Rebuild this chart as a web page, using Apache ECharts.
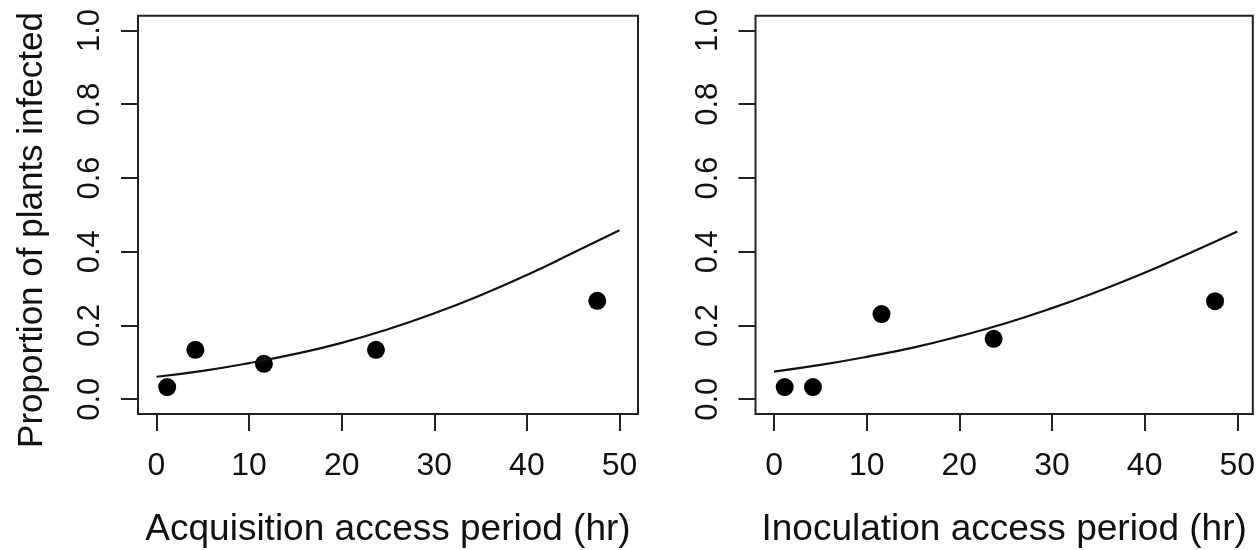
<!DOCTYPE html>
<html>
<head>
<meta charset="utf-8">
<script src="https://cdn.jsdelivr.net/npm/echarts@6/dist/echarts.min.js"></script>
<style>
  html, body { margin: 0; padding: 0; background: #fff; }
  #chart { width: 1256px; height: 550px; }
</style>
</head>
<body>
<div id="chart"></div>
<script>
// ---- data ----
const xTickValues = [0, 10, 20, 30, 40, 50];
const yTickValues = [0, 0.2, 0.4, 0.6, 0.8, 1.0];

const accessPeriods = [1.15, 4.2, 11.6, 23.7, 47.6];          // hr
const acquisitionProp = [0.033, 0.134, 0.096, 0.134, 0.267];   // left panel points
const inoculationProp = [0.033, 0.033, 0.231, 0.164, 0.266];   // right panel points

const fitX = [0, 5, 10, 15, 20, 25, 30, 35, 40, 45, 50];
const acquisitionFit = [0.061, 0.077, 0.098, 0.123, 0.153, 0.190, 0.233, 0.282, 0.337, 0.397, 0.458];
const inoculationFit = [0.075, 0.093, 0.115, 0.140, 0.171, 0.206, 0.247, 0.293, 0.343, 0.398, 0.455];

const xTitles = ['Acquisition access period (hr)', 'Inoculation access period (hr)'];
const yTitle = 'Proportion of plants infected';

// ---- chart ----
const FONT = '"Liberation Sans", Arial, Helvetica, sans-serif';
const INK = '#111';
const chart = echarts.init(document.getElementById('chart'), null, { renderer: 'canvas' });

function pairs(xs, ys) { return xs.map((x, i) => [x, ys[i]]); }

function xAxisFor(gridIndex, max) {
  return {
    type: 'value', gridIndex, min: -2, max,
    name: xTitles[gridIndex], nameLocation: 'middle', nameGap: 97,
    nameTextStyle: { fontSize: 37, fontFamily: FONT, color: INK },
    axisLine: { show: false, onZero: false },
    axisTick: { show: true, inside: false, length: 17, customValues: xTickValues,
                lineStyle: { color: '#222', width: 2 } },
    axisLabel: { show: true, customValues: xTickValues, margin: 36,
                 fontSize: 32, fontFamily: FONT, color: INK },
    splitLine: { show: false }
  };
}
function yAxisFor(gridIndex) {
  return {
    type: 'value', gridIndex, min: -0.04, max: 1.04,
    axisLine: { show: false, onZero: false },
    axisTick: { show: true, inside: false, length: 17, customValues: yTickValues,
                lineStyle: { color: '#222', width: 2 } },
    axisLabel: { show: true, customValues: yTickValues, rotate: 90, margin: 32,
                 fontSize: 31, fontFamily: FONT, color: INK,
                 formatter: v => v.toFixed(1) },
    splitLine: { show: false }
  };
}

const option = {
  backgroundColor: '#fff',
  animation: false,
  grid: [
    { left: 138, top: 15.7, width: 500, height: 398.3, show: true,
      outerBoundsMode: 'none', containLabel: false,
      borderColor: '#222', borderWidth: 2, backgroundColor: 'transparent' },
    { left: 755.5, top: 15.7, width: 497.3, height: 398.3, show: true,
      outerBoundsMode: 'none', containLabel: false,
      borderColor: '#222', borderWidth: 2, backgroundColor: 'transparent' }
  ],
  xAxis: [xAxisFor(0, 52), xAxisFor(1, 51.67)],
  yAxis: [yAxisFor(0), yAxisFor(1)],
  graphic: [
    { type: 'text', x: 32, y: 230, rotation: Math.PI / 2,
      style: { text: yTitle, fontSize: 35, fontFamily: FONT, fill: INK,
               align: 'center', verticalAlign: 'middle' } }
  ],
  series: [
    { type: 'line', xAxisIndex: 0, yAxisIndex: 0, data: pairs(fitX, acquisitionFit),
      smooth: true, showSymbol: false, lineStyle: { color: INK, width: 2.2 } },
    { type: 'scatter', xAxisIndex: 0, yAxisIndex: 0, data: pairs(accessPeriods, acquisitionProp),
      symbol: 'circle', symbolSize: 18, itemStyle: { color: '#000', opacity: 1 } },
    { type: 'line', xAxisIndex: 1, yAxisIndex: 1, data: pairs(fitX, inoculationFit),
      smooth: true, showSymbol: false, lineStyle: { color: INK, width: 2.2 } },
    { type: 'scatter', xAxisIndex: 1, yAxisIndex: 1, data: pairs(accessPeriods, inoculationProp),
      symbol: 'circle', symbolSize: 18, itemStyle: { color: '#000', opacity: 1 } }
  ]
};
chart.setOption(option);
</script>
</body>
</html>
